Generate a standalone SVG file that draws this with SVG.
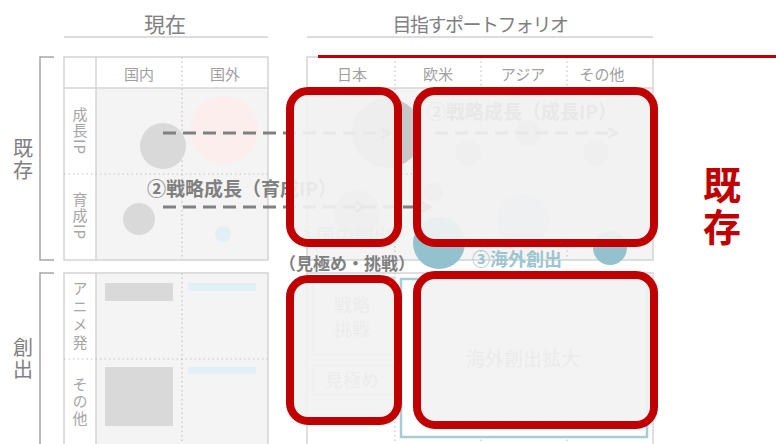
<svg xmlns="http://www.w3.org/2000/svg" width="776" height="444" viewBox="0 0 776 444">
<style>
text{font-family:"Noto Sans CJK JP","Noto Sans",sans-serif}
.ttl{font-size:21px;fill:#808080;text-anchor:middle}
.hd{font-size:15px;fill:#a0a0a0;text-anchor:middle;dominant-baseline:central}
.vt{writing-mode:vertical-rl;text-orientation:mixed}
.vl{font-size:15px;fill:#a6a6a6}
.side{font-size:20px;fill:#808080;letter-spacing:2px}
.bd{fill:none;stroke:#d4d4d4;stroke-width:1.5}
.dot{stroke:#c4c4c4;stroke-width:1.2;stroke-dasharray:1.5 3;fill:none}
.ov{fill:#f2f2f2;fill-opacity:0.91;stroke:#c00000;stroke-width:8}
.dash{stroke:#808080;stroke-width:3;stroke-dasharray:13 7;fill:none}
.lbl{font-size:19px;font-weight:bold;fill:#808080}
.teal{font-size:18px;font-weight:bold;fill:#9cc5d1}
.gc{fill:#d2d2d2}
.tc{fill:#93c1cd}
.br{fill:none;stroke:#a6a6a6;stroke-width:1.5}
</style>
<defs>
<marker id="chev" viewBox="0 0 10 10" refX="8" refY="5" markerWidth="4" markerHeight="4" orient="auto" markerUnits="strokeWidth">
<path d="M1 1 L8 5 L1 9" fill="none" stroke="#808080" stroke-width="2"/>
</marker>
</defs>
<rect width="776" height="444" fill="#ffffff"/>

<g id="titles">
<text class="ttl" x="165" y="32">現在</text>
<line x1="64" y1="37" x2="268" y2="37" stroke="#d0d0d0" stroke-width="1.5"/>
<text class="ttl" x="480" y="32" style="font-size:19px;letter-spacing:-1.5px">目指すポートフォリオ</text>
<line x1="307" y1="37" x2="653" y2="37" stroke="#d0d0d0" stroke-width="1.5"/>
</g>

<g id="side-labels">
<path class="br" d="M54 57 H40 V260 H54"/>
<text class="side vt" x="23" y="138">既存</text>
<path class="br" d="M54 273 H40 V444"/>
<text class="side vt" x="23" y="337">創出</text>
</g>

<g id="current-existing">
<rect x="64" y="57" width="204" height="31" fill="#ffffff"/>
<rect x="64" y="88" width="32" height="172" fill="#ffffff"/>
<rect x="96" y="88" width="172" height="172" fill="#f4f4f4"/>
<rect class="bd" x="64" y="57" width="204" height="203"/>
<line class="bd" x1="64" y1="88" x2="268" y2="88"/>
<line class="bd" x1="96" y1="57" x2="96" y2="260"/>
<line class="dot" x1="182" y1="57" x2="182" y2="260"/>
<line class="dot" x1="64" y1="174" x2="268" y2="174"/>
<text class="hd" x="139" y="73">国内</text>
<text class="hd" x="225" y="73">国外</text>
<text class="vl vt" x="80" y="107" style="letter-spacing:1px">成長IP</text>
<text class="vl vt" x="80" y="192" style="letter-spacing:1px">育成IP</text>
<circle cx="224" cy="130" r="34" fill="#fdeeee"/>
<circle cx="163" cy="146" r="23" fill="#d9d9d9"/>
<circle cx="139" cy="219" r="16" fill="#d9d9d9"/>
<circle cx="223" cy="234" r="8" fill="#e2f0f5"/>
</g>

<g id="current-creation">
<rect x="64" y="273" width="32" height="180" fill="#ffffff"/>
<rect x="96" y="273" width="172" height="180" fill="#f4f4f4"/>
<rect class="bd" x="64" y="273" width="204" height="180"/>
<line class="bd" x1="96" y1="273" x2="96" y2="444"/>
<line class="dot" x1="182" y1="273" x2="182" y2="444"/>
<line class="dot" x1="64" y1="359" x2="268" y2="359"/>
<text class="vl vt" x="80" y="281" style="letter-spacing:3px">アニメ発</text>
<text class="vl vt" x="80" y="377" style="letter-spacing:2px">その他</text>
<rect x="105" y="283" width="68" height="18" fill="#d9d9d9"/>
<rect x="188" y="283" width="68" height="8" fill="#e2f0f5"/>
<rect x="105" y="367" width="68" height="59" fill="#d9d9d9"/>
<rect x="188" y="367" width="68" height="7" fill="#e2f0f5"/>
</g>

<g id="target-table">
<rect x="307" y="57" width="346" height="31" fill="#ffffff"/>
<rect x="307" y="88" width="346" height="172" fill="#f4f4f4"/>
<rect class="bd" x="307" y="57" width="346" height="203"/>
<line class="bd" x1="307" y1="88" x2="653" y2="88"/>
<line class="dot" x1="395" y1="57" x2="395" y2="260"/>
<line class="dot" x1="481" y1="57" x2="481" y2="260"/>
<line class="dot" x1="567" y1="57" x2="567" y2="260"/>
<line class="dot" x1="307" y1="174" x2="653" y2="174"/>
<text class="hd" x="352" y="73">日本</text>
<text class="hd" x="438" y="73">欧米</text>
<text class="hd" x="523" y="73">アジア</text>
<text class="hd" x="602" y="73">その他</text>
<circle cx="387" cy="133" r="35" fill="#c8c8c8"/>
<circle class="gc" cx="468" cy="153" r="13"/>
<circle class="gc" cx="528" cy="133" r="13"/>
<circle class="gc" cx="596" cy="153" r="13"/>
<circle class="gc" cx="433" cy="192" r="10"/>
<circle class="gc" cx="357" cy="213" r="23"/>
<circle cx="523" cy="220" r="26" fill="#c6dbe2"/>
<rect x="307" y="273" width="346" height="180" fill="#ffffff"/>
<rect class="bd" x="307" y="273" width="346" height="180"/>
<line class="dot" x1="395" y1="273" x2="395" y2="444"/>
<line class="dot" x1="481" y1="273" x2="481" y2="444"/>
<line class="dot" x1="567" y1="273" x2="567" y2="444"/>
<line class="dot" x1="307" y1="359" x2="653" y2="359"/>
<rect x="401" y="279" width="246" height="158" fill="#ffffff" stroke="#a9cdd6" stroke-width="2.5"/>
<text x="523" y="366" style="font-size:19px;fill:#9a9a9a;text-anchor:middle">海外創出拡大</text>
<rect x="313" y="278" width="81" height="76" fill="#ffffff" stroke="#d9d9d9" stroke-width="3"/>
<text x="352" y="312" style="font-size:18px;fill:#a6a6a6;text-anchor:middle">戦略</text>
<text x="352" y="336" style="font-size:18px;fill:#a6a6a6;text-anchor:middle">挑戦</text>
<rect x="313" y="366" width="81" height="28" fill="#ffffff" stroke="#d9d9d9" stroke-width="3"/>
<text x="352" y="387" style="font-size:18px;fill:#a6a6a6;text-anchor:middle">見極め</text>
<circle class="tc" cx="439" cy="243" r="26"/>
<circle class="tc" cx="610" cy="248" r="17"/>
<text class="teal" x="297" y="243" style="font-size:19px">③国内創出</text>
<text class="lbl" x="427" y="119">②戦略成長（成長IP）</text>
</g>

<g id="connectors">
<path class="dash" d="M163 133 H390" marker-end="url(#chev)"/>
<path class="dash" d="M435 133 H617" marker-end="url(#chev)"/>
<path class="dash" d="M163 207 H430" marker-end="url(#chev)"/>
<path d="M356 202 L363 207 L356 212" fill="none" stroke="#808080" stroke-width="2.5"/>
</g>

<g id="growth-label">
<text class="lbl" x="147" y="196">②戦略成長（育成IP）</text>
</g>

<g id="focus-boxes">
<rect class="ov" x="290" y="91" width="108" height="152" rx="18"/>
<rect class="ov" x="417" y="91" width="237" height="152" rx="18"/>
<rect class="ov" x="290" y="279" width="108" height="142" rx="18"/>
<rect class="ov" x="417" y="275" width="237" height="150" rx="18"/>
</g>

<g id="labels">
<text x="279" y="270" style="font-size:17px;font-weight:bold;fill:#808080">（見極め・挑戦）</text>
<text class="teal" x="472" y="266">③海外創出</text>
</g>

<line x1="318" y1="56.5" x2="776" y2="56.5" stroke="#c00000" stroke-width="3"/>
<g id="existing-red">
<text class="vt" x="722" y="166" style="font-size:38px;font-weight:bold;fill:#c00000;letter-spacing:4px">既存</text>
</g>
</svg>
